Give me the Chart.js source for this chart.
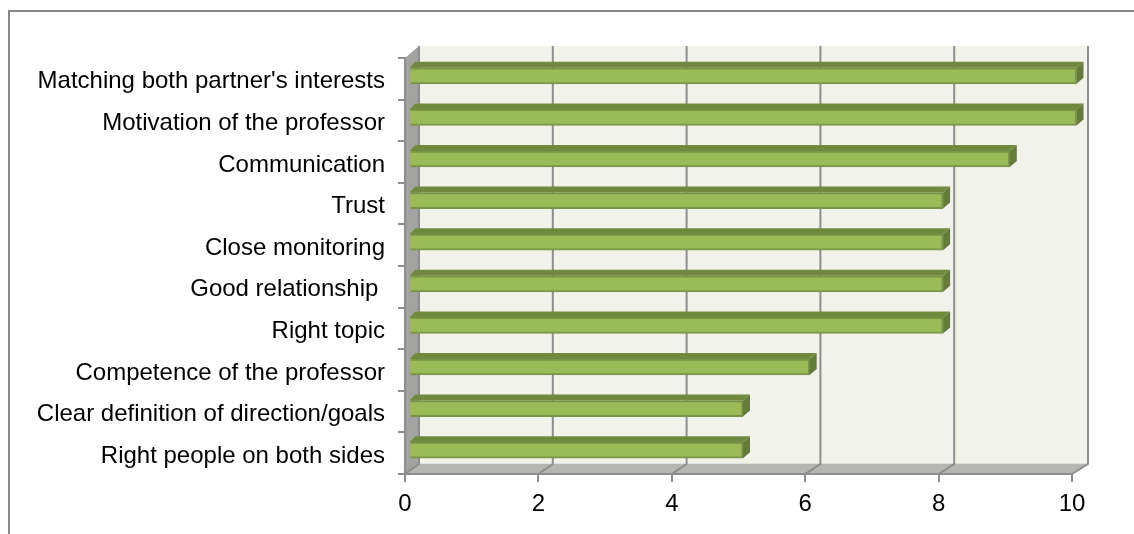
<!DOCTYPE html>
<html>
<head>
<meta charset="utf-8">
<style>
  html, body { margin: 0; padding: 0; background: #fff; overflow: hidden; }
  #wrap { position: relative; width: 1134px; height: 534px; }
</style>
<script src="https://cdn.jsdelivr.net/npm/chart.js@4"></script>
</head>
<body>
<div id="wrap"><canvas id="myChart" width="1134" height="534"></canvas></div>
<script>
var categories = ["Matching both partner's interests", "Motivation of the professor", "Communication", "Trust", "Close monitoring", "Good relationship ", "Right topic", "Competence of the professor", "Clear definition of direction/goals", "Right people on both sides"];
var seriesValues = [10, 10, 9, 8, 8, 8, 8, 6, 5, 5];
var xTicks = [0, 2, 4, 6, 8, 10];

// fake 3D look of the old excel chart
var depthX = 14, barDepthX = 7, barDepthY = 6;

function poly(ctx, pts, fill) {
  ctx.beginPath();
  ctx.moveTo(pts[0][0], pts[0][1]);
  for (var i = 1; i < pts.length; i++) ctx.lineTo(pts[i][0], pts[i][1]);
  ctx.closePath();
  ctx.fillStyle = fill;
  ctx.fill();
}

var walls = {
  id: 'walls',
  beforeDraw: function (chart) {
    var ctx = chart.ctx, a = chart.chartArea, xs = chart.scales.x;
    var backX = function (v) { return xs.getPixelForValue(v) + depthX + v * 0.2; };
    var backTop = a.top - 12, backBottom = a.bottom - 10;

    ctx.save();
    // outer frame, only top and left show
    ctx.strokeStyle = '#868686';
    ctx.lineWidth = 2;
    ctx.beginPath();
    ctx.moveTo(9, 534);
    ctx.lineTo(9, 11);
    ctx.lineTo(1134, 11);
    ctx.stroke();

    poly(ctx, [[backX(0), backTop], [backX(10), backTop], [backX(10), backBottom], [backX(0), backBottom]], '#F1F3EB');
    poly(ctx, [[a.left, a.top], [backX(0), backTop], [backX(0), backBottom], [a.left, a.bottom]], '#A3A4A1');
    poly(ctx, [[a.left, a.bottom], [backX(0), backBottom], [backX(10), backBottom], [a.right, a.bottom]], '#B5B6B1');

    ctx.strokeStyle = '#DFE2D6';
    ctx.lineWidth = 1;
    ctx.beginPath();
    ctx.moveTo(backX(0), backBottom - 0.5);
    ctx.lineTo(backX(10), backBottom - 0.5);
    ctx.stroke();

    // grid on the back wall and down the floor
    ctx.strokeStyle = '#8E8E8E';
    ctx.lineWidth = 2;
    xTicks.forEach(function (v) {
      ctx.beginPath();
      ctx.moveTo(backX(v), backTop);
      ctx.lineTo(backX(v), backBottom);
      ctx.lineTo(xs.getPixelForValue(v), a.bottom);
      ctx.stroke();
    });
    ctx.restore();
  },
  beforeDatasetDraw: function (chart) {
    chart.ctx.save();
    chart.ctx.translate(4.5, -3);
  },
  afterDatasetDraw: function (chart) {
    var ctx = chart.ctx;
    chart.getDatasetMeta(0).data.forEach(function (bar) {
      var top = bar.y - bar.height / 2, bottom = bar.y + bar.height / 2;
      poly(ctx, [[bar.base - 1, top], [bar.base + 5, top - barDepthY], [bar.x + barDepthX, top - barDepthY], [bar.x, top]], '#71893F');
      poly(ctx, [[bar.x, top], [bar.x + barDepthX, top - barDepthY], [bar.x + barDepthX, bottom - barDepthY], [bar.x, bottom]], '#657B38');
    });
    ctx.restore();
  }
};

new Chart("myChart", {
  type: "bar",
  plugins: [walls],
  data: {
    labels: categories,
    datasets: [{
      data: seriesValues,
      backgroundColor: "#9BBB59",
      borderColor: "#7A9644",
      borderWidth: 2,
      barThickness: 16,
      clip: false
    }]
  },
  options: {
    indexAxis: "y",
    responsive: false,
    animation: false,
    layout: { padding: { top: 58, right: 62, left: 0, bottom: 0 } },
    plugins: { legend: { display: false }, title: { display: false }, tooltip: { enabled: false } },
    scales: {
      x: {
        min: 0,
        max: 10,
        afterFit: function (s) { s.height = 60; },
        afterBuildTicks: function (s) { s.ticks = xTicks.map(function (v) { return { value: v }; }); },
        grid: { drawOnChartArea: false, drawTicks: true, tickLength: 8, color: "#8E8E8E", lineWidth: 2 },
        border: { color: "#8E8E8E", width: 2 },
        ticks: { color: "#000", maxRotation: 0, padding: 8, font: { family: "Liberation Sans", size: 24 } }
      },
      y: {
        afterFit: function (s) { s.width = 405; },
        grid: { drawOnChartArea: false, drawTicks: true, tickLength: 7, color: "#8E8E8E", lineWidth: 2, offset: true },
        border: { color: "#8E8E8E", width: 2 },
        ticks: { color: "#000", padding: 13, autoSkip: false, labelOffset: 3, font: { family: "Liberation Sans", size: 24 } }
      }
    }
  }
});
</script>
</body>
</html>
